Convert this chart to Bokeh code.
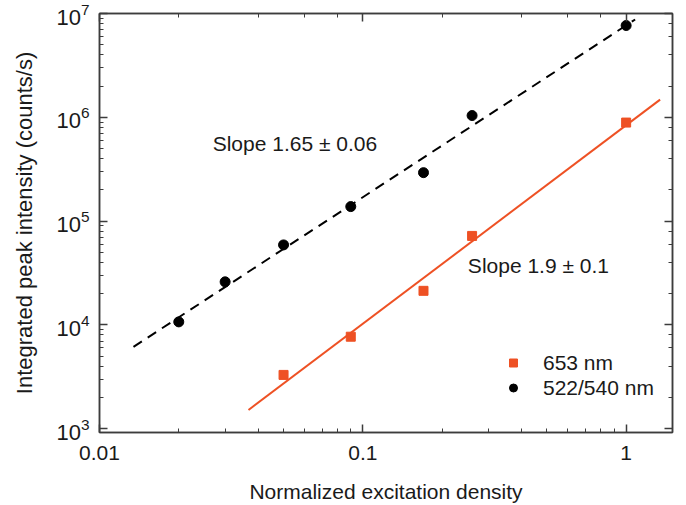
from bokeh.plotting import figure
from bokeh.models import LogAxis, Legend, LegendItem, CustomJSTickFormatter, Range1d
from bokeh.embed import file_html
from bokeh.resources import INLINE
from bokeh.core.properties import value

# ---- data ----
green_density = [0.02, 0.03, 0.05, 0.09, 0.17, 0.26, 1.0]
green_intensity = [1.07e4, 2.6e4, 5.9e4, 1.38e5, 2.93e5, 1.04e6, 7.66e6]
red_density = [0.05, 0.09, 0.17, 0.26, 1.0]
red_intensity = [3.3e3, 7.7e3, 2.13e4, 7.2e4, 8.9e5]

green_fit_x = [0.01346, 1.082]
green_fit_y = [6150, 8.75e6]
red_fit_x = [0.0368, 1.346]
red_fit_y = [1517, 1.48e6]

note_text = ["Slope 1.65 \u00b1 0.06", "Slope 1.9 \u00b1 0.1"]
note_x = [0.0269, 0.2506]
note_y = [5.6e5, 3.7e4]

series_labels = ["653 nm", "522/540 nm"]

FONT = "Liberation Sans"
FS = "21px"
AX = "#3c3c3c"
RED = "#EE5124"

p = figure(width=686, height=505, x_axis_type="log", y_axis_type="log",
           x_range=Range1d(0.01, 1.5), y_range=Range1d(920, 1e7),
           output_backend="svg", toolbar_location=None,
           min_border_left=99, min_border_top=13, min_border_right=14,
           min_border_bottom=73)
p.xgrid.visible = False
p.ygrid.visible = False
p.outline_line_color = AX
p.outline_line_width = 1.5


def style(ax):
    ax.axis_line_color = AX
    ax.axis_line_width = 1.5
    ax.major_tick_in = 8
    ax.major_tick_out = 0
    ax.minor_tick_in = 4
    ax.minor_tick_out = 0
    ax.major_tick_line_color = AX
    ax.minor_tick_line_color = AX
    ax.major_tick_line_width = 1.5
    ax.minor_tick_line_width = 1
    ax.major_label_text_font = FONT
    ax.major_label_text_font_size = FS
    ax.major_label_text_color = "#1a1a1a"
    ax.axis_label_text_font = FONT
    ax.axis_label_text_font_size = FS
    ax.axis_label_text_font_style = "normal"
    ax.axis_label_text_color = "#1a1a1a"


xa = p.xaxis[0]
ya = p.yaxis[0]
style(xa)
style(ya)
xa.formatter = CustomJSTickFormatter(code="return String(Number(tick.toPrecision(3)))")
xa.axis_label = "Normalized excitation density"
ya.axis_label = "Integrated peak intensity (counts/s)"
ya.major_label_text_font_size = "22px"
ya.axis_label_text_font_size = "22px"
xa.major_label_standoff = 13
ya.major_label_standoff = 10
xa.axis_label_standoff = 17
ya.axis_label_standoff = 16

for loc in ("above", "right"):
    ax = LogAxis()
    style(ax)
    ax.major_label_text_alpha = 0
    ax.major_label_text_font_size = "1px"
    ax.major_label_standoff = 0
    p.add_layout(ax, loc)

p.line(green_fit_x, green_fit_y, line_color="black", line_width=2, line_dash="10 7")
p.line(red_fit_x, red_fit_y, line_color=RED, line_width=2)

sq = p.scatter(red_density, red_intensity, marker="square", size=9,
               fill_color=RED, line_color=RED)
ci = p.scatter(green_density, green_intensity, marker="circle", size=10,
               fill_color="black", line_color="black")

p.text(x=note_x, y=note_y, text=note_text, text_font=value(FONT),
       text_font_size=FS, text_baseline="middle", text_align="left",
       text_color="#1a1a1a")

legend = Legend(items=[LegendItem(label=series_labels[0], renderers=[sq]),
                       LegendItem(label=series_labels[1], renderers=[ci])],
                location=(404, 32), border_line_color=None,
                background_fill_alpha=0, padding=0, margin=0, spacing=0,
                glyph_width=20, glyph_height=25, label_height=25,
                label_standoff=20, label_text_font=FONT,
                label_text_font_size=FS, label_text_color="#1a1a1a")
p.add_layout(legend)

open("out.html", "w").write(file_html(p, INLINE))
